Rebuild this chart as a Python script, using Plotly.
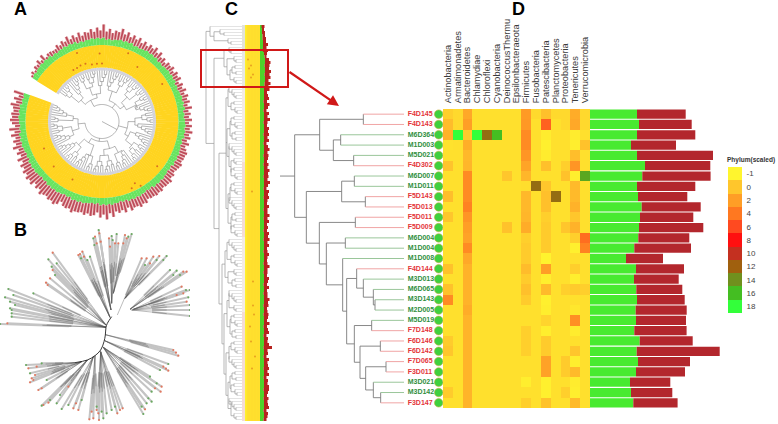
import plotly.graph_objects as go

W, H = 778, 424

# ---------- Panel D data ----------
PHYLA = ["Actinobacteria", "Armatimonadetes", "Bacteroidetes", "Chlamydiae", "Chloroflexi",
         "Cyanobacteria", "DeinococcusThermu", "Epsilonbacteraeota", "Firmicutes", "Fusobacteria",
         "Patescibacteria", "Planctomycetes", "Proteobacteria", "Tenericutes", "Verrucomicrobia"]
SAMPLES = ["F4D145", "F4D143", "M6D364", "M1D003", "M5D021", "F4D302", "M6D007", "M1D011", "F5D143",
           "F5D013", "F5D011", "F5D009", "M6D004", "M1D004", "M1D008", "F4D144", "M3D013", "M6D065",
           "M3D143", "M2D005", "M5D019", "F7D148", "F6D146", "F6D142", "F7D065", "F3D011", "M3D021",
           "M3D142", "F3D147"]
b = -0.55
HEAT = [
    [-.2, -.4, 1.5, b, b, b, b, b, 2.2, -.4, .3, -.4, -.4, 1.3, -.4],
    [.5, -.4, 2, b, b, b, b, b, 2.3, b, 5, b, -.4, 1.5, -.4],
    [1, 18, -.1, 18, 12.5, 16, b, b, 3, b, -.8, b, b, -.8, b],
    [-.6, b, 1.2, b, b, b, b, b, 3, b, -.9, b, b, -.85, .2],
    [b, b, .7, b, b, b, b, b, 2.5, b, -.8, b, b, .4, b],
    [.1, b, .8, b, b, b, b, b, 1.7, b, .3, b, -.2, 2.5, b],
    [b, b, 3, b, b, b, 0, b, .8, b, b, b, .2, -.85, 15],
    [b, b, 3, b, b, b, b, b, -.5, 12.5, 0, b, b, .6, b],
    [.4, b, 3, b, b, b, b, b, .7, b, .3, 12.5, b, .6, b],
    [b, b, 3.5, b, b, b, b, b, .7, b, .3, b, b, 1, b],
    [0, b, 2.5, b, b, b, b, b, .8, b, -.2, b, b, 0, b],
    [b, b, 2, b, b, b, .2, b, 1.3, b, -.1, b, 0, 1, b],
    [b, b, 1.8, b, b, b, b, b, -.2, b, -.1, b, b, -.2, 4.5],
    [b, b, 3, b, b, b, b, b, -.1, b, -.1, b, b, -.9, 3.5],
    [b, b, 1.5, b, b, b, b, b, -.1, b, -.95, b, b, b, b],
    [.2, b, 1, b, b, b, b, b, .5, b, 2, b, b, -.2, b],
    [b, b, 1, b, b, b, b, b, -.1, b, -.85, b, b, -.85, b],
    [.2, b, 1, b, b, b, b, b, .3, b, .6, b, -.2, -.1, -.2],
    [3, b, 1, b, b, b, b, b, -.1, b, -.9, b, b, b, b],
    [b, b, 1.3, b, b, b, b, b, b, b, -.85, b, b, -.7, b],
    [b, b, .9, b, b, b, b, b, b, b, -.3, b, b, 2.8, b],
    [b, b, .9, b, b, b, b, b, -.2, b, -.85, b, b, -.8, b],
    [-.1, b, .9, b, b, b, b, b, -.2, b, -.1, b, b, b, b],
    [0, b, .9, b, b, b, b, b, -.2, b, -.1, b, b, 0, b],
    [b, b, .9, b, b, b, b, b, b, b, 1.8, b, -.1, -.85, b],
    [b, b, .9, b, b, b, b, b, b, b, 1.8, b, -.1, .6, b],
    [b, b, .9, b, b, b, b, b, -.85, b, -.9, b, b, -.8, b],
    [-.1, b, .9, b, b, b, b, b, b, b, -.9, b, -.2, -.85, b],
    [b, b, .9, b, b, b, b, b, -.2, b, .2, b, b, .6, b],
]
D_GREEN = [47, 49, 47, 41, 47, 55, 52.3, 47, 48, 51.7, 50, 49, 48.3, 44.3, 36, 46, 44, 46.3, 47, 45.7,
           46, 44.3, 49.7, 46.7, 48, 46, 40, 41, 43.3]
D_RED = [48.7, 52.7, 58.3, 45, 76, 65.3, 68.3, 58.3, 49.3, 59, 53.3, 64.3, 51, 56.7, 37, 48, 44.7, 46,
         47.7, 51, 50, 52.3, 53, 83, 52, 49, 40.3, 41.3, 44.3]
LEGEND_LEVELS = [-1, 0, 2, 4, 6, 8, 10, 12, 14, 16, 18]
LEGEND_COLORS = ["#FFF52E", "#FFC62C", "#FF9E26", "#FF7820", "#FF4A20", "#FF1010", "#C43020",
                 "#A0600E", "#70901E", "#44BE22", "#33FF3A"]
TREE_D = [44,
          [119, [250, 0, 0], [160, [182, 0, 0], [221, 0, 0]]],
          [79, [185, [223, 0, 0], [256, 0, 0]],
           [118, [226, 0, 0],
            [139, [196, 0, 0],
             [188, 0,
              [200, [230, 0, [250, 0, [280, 0, [285, 0, 0]]]],
               [223, [275, 0, 0],
                [240, [301, 0, 0],
                 [257, [318, 0, 0], [280, 0, [302, 0, 0]]]]]]]]]]]

# ---------- Panel A data ----------
A_RED = [2, 3, 2, 4, 3, 5, 3, 6, 2, 3, 5, 3, 4, 6,
         4, 6, 5, 8, 5, 7, 6, 9, 6, 8, 7, 9, 7, 10, 8,
         13, 8, 10, 7, 9, 8, 11, 7, 9, 6, 8, 7, 9, 6, 8, 5, 7, 6, 8, 5, 7, 5, 6,
         4, 6, 5, 6, 4, 6, 5, 6, 4, 6, 5, 7, 4, 6, 5, 6, 4, 7, 5, 6, 5, 7, 4, 6, 5, 7, 5, 6, 5, 7, 5,
         6, 8, 6, 7, 5, 8, 6, 7, 5, 8, 6, 9, 7, 8, 6, 9, 7, 10, 8, 9, 7, 10, 8, 11, 8, 9, 10, 8, 11, 9, 10, 8, 12, 9, 14,
         10, 12, 9, 11, 13, 10, 12, 9, 11, 10, 13, 9, 12, 10, 8, 11, 13, 10, 12, 9, 11, 12, 10, 11, 9, 12, 10, 11, 9, 10,
         8, 9, 7, 10, 6, 8, 5, 9, 6, 7, 5, 8, 6, 10, 5, 7, 9, 6, 8, 5, 7, 9, 6, 8, 5, 10, 7, 8, 5, 4][:174]
A_GREEN_END = [82, 83, 82, 83, 83, 84, 83, 84, 83, 84]
A_SPOT_R = [59, 59, 60, 60, 58, 58, 58, 71, 75, 66, 64, 65, 71, 68, 73, 73, 65, 70, 73]
A_SPOT_T = [119, 115, 111, 106, 100, 95, 90, -39, -59, -137, -155, -117, 32, 92, 110, 69, 57, -62, -66]
a_p = [44, 0, [47, 0, 0]]
a_q = [40, [44, 0, 0], [45, 0, [48, 0, 0]]]
a_s = [36, 0, [40, 0, [44, 0, [47, 0, 0]]]]
TREE_A = [17,
          [24, [30, a_q, a_s], [28, [36, a_p, a_q], a_s]],
          [22, [32, a_s, a_q], [27, [35, a_q, a_p], [38, a_p, a_s]]],
          [26, [33, a_q, a_s], [30, a_s, [38, a_p, a_q]]],
          [20, [28, [35, a_s, a_p], [34, a_q, a_q]], [25, [36, a_p, a_s], [33, a_q, a_s]]],
          [24, [31, a_s, a_q], [29, a_p, a_s]]]

# ---------- Panel B data (read in 3x zoom units) ----------
B_CORE_X = [335, 322, 318, 316, 312, 302, 285, 262, 225]
B_CORE_Y = [320, 340, 352, 375, 395, 420, 437, 450, 458]
B_BUNDLES = [
    (330, 322, [(235, 135, "F"), (240, 132, "F"), (247, 125, "F"), (243, 145, "M"), (252, 140, "F"), (262, 150, "M"), (270, 140, "M")]),
    (333, 300, [(280, 85, "M"), (285, 80, "F"), (296, 60, "M"), (298, 70, "F"), (290, 100, "F"), (283, 105, "M"), (302, 95, "F")]),
    (335, 280, [(327, 85, "F"), (335, 78, "M"), (350, 72, "M"), (345, 100, "F"), (338, 90, "M"), (330, 110, "F")]),
    (340, 250, [(355, 100, "F"), (375, 75, "F"), (395, 72, "M"), (380, 85, "F"), (370, 100, "F"), (385, 80, "M")]),
    (352, 315, [(425, 145, "F")]),
    (375, 265, [(440, 145, "F"), (460, 140, "F"), (478, 138, "F"), (500, 138, "M"), (490, 150, "M"), (450, 160, "F"), (470, 150, "M"), (435, 165, "M")]),
    (390, 298, [(510, 180, "M"), (530, 182, "M"), (550, 185, "F"), (560, 185, "F"), (540, 195, "M"), (520, 195, "M")]),
    (400, 298, [(545, 230, "F"), (558, 240, "M"), (570, 240, "M"), (550, 250, "F"), (530, 255, "F"), (565, 262, "M")]),
    (395, 300, [(570, 285, "M"), (570, 300, "M"), (570, 318, "M"), (560, 275, "F")]),
    (316, 374, [(535, 437, "F"), (520, 420, "F"), (528, 428, "F")]),
    (314, 392, [(505, 462, "M"), (505, 482, "F"), (490, 470, "F"), (480, 480, "M"), (498, 476, "F")]),
    (310, 412, [(485, 530, "F"), (482, 545, "F"), (470, 520, "M"), (450, 500, "M"), (455, 545, "M"), (465, 535, "F")]),
    (310, 412, [(430, 612, "M"), (455, 575, "M"), (440, 580, "M"), (445, 565, "M"), (425, 590, "M"), (435, 598, "F")]),
    (302, 425, [(360, 600, "F"), (368, 595, "F"), (352, 610, "F"), (335, 600, "M"), (345, 590, "M")]),
    (302, 425, [(297, 630, "F"), (310, 625, "M"), (320, 610, "M"), (295, 610, "F"), (290, 600, "F"), (305, 605, "M")]),
    (285, 437, [(268, 628, "F"), (280, 625, "F"), (290, 590, "M"), (275, 605, "F")]),
    (280, 440, [(220, 595, "F"), (235, 600, "F"), (185, 597, "M"), (245, 570, "M"), (205, 585, "M"), (228, 580, "F")]),
    (262, 450, [(125, 587, "M"), (150, 570, "M"), (170, 580, "M"), (130, 585, "F"), (205, 530, "F"), (145, 578, "F"), (180, 555, "M")]),
    (245, 455, [(90, 517, "F"), (100, 510, "F"), (115, 540, "F"), (125, 535, "F"), (105, 495, "F"), (95, 505, "F"), (140, 510, "M")]),
    (225, 458, [(78, 465, "M"), (85, 475, "F"), (90, 490, "M"), (110, 470, "F"), (125, 460, "M")]),
    (318, 352, [(100, 250, "M")]),
    (318, 352, [(25, 237, "M"), (15, 262, "M"), (30, 275, "M"), (30, 295, "M"), (35, 310, "M"), (35, 320, "M"), (45, 285, "M"), (40, 255, "M"), (35, 300, "M")]),
    (318, 352, [(22, 340, "F"), (0, 342, "M")]),
    (318, 345, [(158, 128, "F"), (145, 148, "M"), (158, 180, "F"), (150, 205, "F"), (138, 218, "F"), (143, 225, "F"), (170, 160, "M"), (165, 195, "M"), (155, 170, "M")]),
]

# ---------- Panel C data ----------
c_p = [34, 0, [36, 0, 0]]
c_q = [31, [34, 0, 0], [35, 0, [37, 0, 0]]]
c_r = [29, 0, [32, 0, [34, 0, [36, 0, 0]]]]
c_s = [32, [35, 0, 0], [36, 0, 0]]
TREE_C = [6,
          [10, 0, [14, [20, 0, [24, 0, 0]], [28, 0, [31, 0, 0]]]],
          [14,
           [24, [29, 0, [31, 0, 0]], [27, c_p, [30, c_s, c_p]]],
           [19,
            [26, [28, c_r, c_q], [27, [30, c_q, c_s], [29, c_r, [31, c_p, c_q]]], [28, [30, c_q, c_r], [31, c_s, c_q]]],
            [22, [25, [27, c_r, c_q], [28, c_p, c_s]],
             [24, [27, [29, c_r, c_p], [30, c_q, c_s]],
              [26, [29, c_q, c_r], [28, [30, c_s, c_q], [31, c_r, c_p]]]]]]]]
C_COLUMNS = [-.9, -.7, -.55, -.5, -.5, -.55, -.5, -.5, -.55, -.5, -.5, -.55, -.5, -.5, -.55]
C_GREEN = [1.5, 2, 2, 2.5, 2.5, 3, 3, 3, 3, 4, 4.5, 5, 5, 4.5, 5, 5, 4.5, 5, 5, 4.5, 4.5, 4,
           4, 4, 4, 3.5, 4, 4, 3.5, 4, 4, 4, 3.5, 4, 4, 4, 3.5, 4, 4, 3.5, 4, 4, 4, 3.5, 4, 4, 3.5, 4,
           4, 4, 3.5, 4, 4, 4, 3.5, 4, 4, 3.5, 4, 4, 4, 3.5, 4, 4, 3.5, 4, 4, 4, 3.5, 4, 4, 3.5, 4, 4,
           4, 3.5, 4, 4, 4, 3.5, 4, 4, 3.5, 4, 4, 4, 3.5, 4, 4, 3.5, 4, 4, 4, 3.5, 4, 4, 3.5, 4, 4, 4,
           3.5, 4, 4, 3.5, 4, 4, 4, 3.5, 4, 4, 3.5, 4, 4, 4, 3.5, 4, 4, 3.5, 4, 4, 4, 3.5, 4, 4, 3.5,
           4, 4, 4, 3.5, 4, 4, 3.5]
C_RED = [3, 1.5, 3, 2.5, 3.5, 3, 5, 3.5, 5, 3, 2,
         4, 5.5, 5, 4, 6, 5, 5.5, 3.5, 6, 4, 5.5,
         3, 4, 5, 3.5, 5.5, 4, 3, 5, 3.5, 6, 4, 3, 5, 4, 5.5, 3.5, 5, 3, 4, 5.5, 3.5, 5, 4, 3, 5, 3.5,
         5.5, 4, 5, 3.5, 6, 4, 3, 5, 4, 5.5, 3.5, 3, 5, 4, 3.5, 5.5, 4, 5, 3, 4, 3.5, 5, 4, 6, 3.5, 5,
         3, 4, 5, 3.5, 3, 4, 5.5, 3.5, 4, 3, 5, 4, 3.5, 5, 3, 4, 3.5, 5.5, 4, 5, 3, 3.5, 5, 4, 3, 5.5,
         3.5, 4, 5, 3, 4, 3.5, 5, 8.5, 3.5, 4, 3, 5, 3.5, 4, 5.5, 3.5, 5, 3, 4, 3.5, 5, 5.5, 4, 3, 5, 3.5,
         4, 5, 3, 4, 3.5, 3]
C_BAND_EDGES = [-.5, 8, 21, 45, 70, 95, 132]
C_BAND_VALUES = [[0], [1], [2], [3], [2], [3]]
C_SPOT_ROW = [11, 13, 14, 16, 17, 55, 85, 93, 96, 100, 105, 110, 114]
C_SPOT_COL = [3, 6, 4, 8, 6, 7, 8, 8, 9, 5, 6, 10, 7]

PINK, LEAFGREEN = "#ee9b9b", "#8fbf8f"


def dx(a, c):
    return [a / W, c / W]


def dy(a, c):
    return [1 - c / H, 1 - a / H]


def walk(node, parent, leaf_depth, st):
    if node == 0:
        y = st["n"]
        st["n"] += 1
        st["leaf"].append((parent, leaf_depth, y))
        return y
    ys = [walk(c, node[0], leaf_depth, st) for c in node[1:]]
    y = (ys[0] + ys[-1]) / 2
    st["v"].append((node[0], ys[0], ys[-1]))
    st["h"].append((parent, node[0], y))
    return y


def tree(node, parent, leaf_depth):
    st = {"n": 0, "leaf": [], "v": [], "h": []}
    walk(node, parent, leaf_depth, st)
    return st


fig = go.Figure()
layout = dict(width=W, height=H, margin=dict(l=0, r=0, t=0, b=0), autosize=False,
              paper_bgcolor="white", plot_bgcolor="white", showlegend=False, barmode="overlay",
              font=dict(family="Liberation Sans", color="#333"))


def axes(n, xd, yd, xr, yr):
    s = str(n) if n > 1 else ""
    layout[f"xaxis{s}"] = dict(domain=dx(*xd), range=xr, visible=False, anchor=f"y{s}", fixedrange=True)
    layout[f"yaxis{s}"] = dict(domain=dy(*yd), range=yr, visible=False, anchor=f"x{s}", fixedrange=True)


def seg(xs, ys, pairs):
    for (x0, y0, x1, y1) in pairs:
        xs += [x0, x1, None]
        ys += [y0, y1, None]


# ----- D tree (axes 1)
axes(1, (273, 443), (109, 408), [-21, 489], [28.5, -0.5])
t = tree(TREE_D, -21, 372)
xs, ys = [], []
seg(xs, ys, [(d, a, d, c) for d, a, c in t["v"]] + [(p, y, d, y) for p, d, y in t["h"]])
fig.add_trace(go.Scatter(x=xs, y=ys, mode="lines", line=dict(color="#7c7c7c", width=0.9), xaxis="x", yaxis="y"))
for key, col in (("F", PINK), ("M", LEAFGREEN)):
    xs, ys = [], []
    seg(xs, ys, [(p, y, d, y) for p, d, y in t["leaf"] if SAMPLES[y][0] == key])
    fig.add_trace(go.Scatter(x=xs, y=ys, mode="lines", line=dict(color=col, width=0.9), xaxis="x", yaxis="y"))
for key, col in (("F", "#e4343a"), ("M", "#2f8f3e")):
    idx = [i for i, s in enumerate(SAMPLES) if s[0] == key]
    fig.add_trace(go.Scatter(x=[383] * len(idx), y=idx, text=[SAMPLES[i] for i in idx], mode="text",
                             textposition="middle right", cliponaxis=False,
                             textfont=dict(family="Liberation Sans", size=7, color=col, weight="bold"),
                             xaxis="x", yaxis="y"))
fig.add_trace(go.Scatter(x=[476] * 29, y=list(range(29)), mode="markers", cliponaxis=False,
                         marker=dict(size=8.5, color="#3fd03f", line=dict(color="#c8b040", width=0.6)),
                         xaxis="x", yaxis="y"))

# ----- D heatmap (axes 2)
scale = [[(v + 1) / 19, c] for v, c in zip(LEGEND_LEVELS, LEGEND_COLORS)]
axes(2, (443, 590), (109, 408), [-0.5, 14.5], [28.5, -0.5])
layout["xaxis2"].update(visible=True, side="top", tickmode="array", tickvals=list(range(15)), ticktext=PHYLA,
                        tickangle=-90, ticks="outside", ticklen=3, tickcolor="white", showgrid=False,
                        zeroline=False, showline=False,
                        tickfont=dict(size=9.2, color="#3c3c3c", family="Liberation Sans"))
fig.add_trace(go.Heatmap(z=HEAT, zmin=-1, zmax=18, colorscale=scale, showscale=False, xaxis="x2", yaxis="y2"))

# ----- D bars (axes 3)
axes(3, (590, 778), (109, 408), [0, 188], [28.5, -0.5])
ys29 = list(range(29))
fig.add_trace(go.Bar(x=D_GREEN, y=ys29, orientation="h", width=0.9, marker=dict(color="#48ea30", line=dict(width=0)), xaxis="x3", yaxis="y3"))
fig.add_trace(go.Bar(x=D_RED, y=ys29, base=D_GREEN, orientation="h", width=0.9, marker=dict(color="#b3272d", line=dict(width=0)), xaxis="x3", yaxis="y3"))

# ----- Legend (axes 4)
axes(4, (728, 742), (167, 313), [-0.5, 0.5], [10.5, -0.5])
layout["yaxis4"].update(visible=True, side="right", tickmode="array", tickvals=list(range(11)),
                        ticktext=[str(v) for v in LEGEND_LEVELS], showgrid=False, zeroline=False, showline=False,
                        ticks="outside", ticklen=2, tickcolor="white",
                        tickfont=dict(size=8, color="#444", family="Liberation Sans"))
fig.add_trace(go.Heatmap(z=[[v] for v in LEGEND_LEVELS], zmin=-1, zmax=18, colorscale=scale, showscale=False, xaxis="x4", yaxis="y4"))

# ----- C tree (axes 5)
tc = tree(TREE_C, 0, 42)
axes(5, (200, 245), (25, 421), [0, 45], [tc["n"] - 0.5, -0.5])
xs, ys = [], []
seg(xs, ys, [(d, a, d, c) for d, a, c in tc["v"]] + [(p, y, d, y) for p, d, y in tc["h"]])
xl, yl = [], []
seg(xl, yl, [(p, y, d, y) for p, d, y in tc["leaf"]])
fig.add_trace(go.Scatter(x=xl, y=yl, mode="lines", line=dict(color="#dcdcdc", width=0.8), xaxis="x5", yaxis="y5"))
fig.add_trace(go.Scatter(x=xs, y=ys, mode="lines", line=dict(color="#9a9a9a", width=0.7), xaxis="x5", yaxis="y5"))

# ----- C strip (axes 6)
axes(6, (242, 280), (25, 421), [-3, 35], [131.5, -0.5])
rows = list(range(len(C_RED)))
fig.add_trace(go.Heatmap(z=C_BAND_VALUES, x=[-3, 0], y=C_BAND_EDGES, zmin=0, zmax=3, showscale=False,
                         colorscale=[[0, "#e2e2da"], [0.33, "#e8e8e4"], [0.66, "#f4ebe6"], [1, "#f4dcd6"]],
                         xaxis="x6", yaxis="y6"))
fig.add_trace(go.Heatmap(z=[C_COLUMNS], x=[i + .5 for i in range(15)], y=[-.5, 131.5], zmin=-1, zmax=18,
                         colorscale=scale, showscale=False, xaxis="x6", yaxis="y6"))
fig.add_trace(go.Bar(x=C_GREEN, y=rows, base=15, orientation="h", width=1, marker=dict(color="#4ed22a", line=dict(width=0)), xaxis="x6", yaxis="y6"))
fig.add_trace(go.Bar(x=C_RED, y=rows, base=[15 + g for g in C_GREEN], orientation="h", width=1, marker=dict(color="#b7231f", line=dict(width=0)), xaxis="x6", yaxis="y6"))
fig.add_trace(go.Scatter(x=C_SPOT_COL, y=C_SPOT_ROW, mode="markers", marker=dict(size=2, color="#e8a020"), xaxis="x6", yaxis="y6"))

# ----- B (axes 7)
axes(7, (0, 190), (210, 424), [0, 570], [642, 0])
dark_x, dark_y, gray_x, gray_y = [], [], [], []
tip = {"F": ([], []), "M": ([], [])}
for hx, hy, tips in B_BUNDLES:
    for x, y, k in tips:
        mx, my = hx + 0.35 * (x - hx), hy + 0.35 * (y - hy)
        dark_x += [hx, hx + 0.6 * (x - hx), None]
        dark_y += [hy, hy + 0.6 * (y - hy), None]
        gray_x += [mx, x, None]
        gray_y += [my, y, None]
        tip[k][0].append(x)
        tip[k][1].append(y)
fig.add_trace(go.Scatter(x=gray_x, y=gray_y, mode="lines", line=dict(color="#c4c4c4", width=2), xaxis="x7", yaxis="y7"))
fig.add_trace(go.Scatter(x=dark_x, y=dark_y, mode="lines", line=dict(color="#555", width=0.4), xaxis="x7", yaxis="y7"))
fig.add_trace(go.Scatter(x=B_CORE_X, y=B_CORE_Y, mode="lines", line=dict(color="#222", width=0.9, shape="spline"), xaxis="x7", yaxis="y7"))
fig.add_trace(go.Scatter(x=tip["F"][0], y=tip["F"][1], mode="markers", marker=dict(size=2.2, color="#e07860"), xaxis="x7", yaxis="y7"))
fig.add_trace(go.Scatter(x=tip["M"][0], y=tip["M"][1], mode="markers", marker=dict(size=2.2, color="#6aa860"), xaxis="x7", yaxis="y7"))

# ----- A (polar)
theta = [147 - 2 * i for i in range(len(A_RED))]
green_end = [A_GREEN_END[i % len(A_GREEN_END)] for i in range(len(A_RED))]
polar_kw = dict(subplot="polar")
fig.add_trace(go.Barpolar(r=[3] * len(theta), base=51, theta=theta, width=2.3, marker=dict(color="#d2d2da", line=dict(width=0)), **polar_kw))
fig.add_trace(go.Barpolar(r=[22.5] * len(theta), base=54, theta=theta, width=2.4, marker=dict(color="#ffd420", line=dict(width=0)), **polar_kw))
fig.add_trace(go.Barpolar(r=[g - 76.5 for g in green_end], base=76.5, theta=theta, width=2.1, marker=dict(color="#68e460", line=dict(width=0)), **polar_kw))
fig.add_trace(go.Barpolar(r=A_RED, base=green_end, theta=theta, width=2, marker=dict(color="#e8b4b6", line=dict(width=0)), **polar_kw))
fig.add_trace(go.Barpolar(r=A_RED, base=green_end, theta=theta, width=1.1, marker=dict(color="#bd4a58", line=dict(width=0)), **polar_kw))

ta = tree(TREE_A, 0, 51)
n = ta["n"]
start, step = 145.0, 344.0 / (n - 1)


def ang(y):
    return start - y * step


pr, pt = [], []
for d, a, c in ta["v"]:
    k = max(2, int(abs(c - a) * step / 3) + 1)
    for j in range(k + 1):
        pr.append(d)
        pt.append(ang(a + (c - a) * j / k))
    pr.append(None)
    pt.append(None)
for p, d, y in ta["h"] + ta["leaf"]:
    pr += [p, d, None]
    pt += [ang(y), ang(y), None]
fig.add_trace(go.Scatterpolar(r=pr, theta=pt, mode="lines", line=dict(color="#777", width=0.55), **polar_kw))
fig.add_trace(go.Scatterpolar(r=A_SPOT_R, theta=A_SPOT_T, mode="markers", marker=dict(size=2, color="#d87020"), **polar_kw))

layout["polar"] = dict(domain=dict(x=dx(2, 202), y=dy(21.5, 221.5)), barmode="overlay", bgcolor="rgba(0,0,0,0)",
                       radialaxis=dict(range=[0, 100], visible=False),
                       angularaxis=dict(visible=False, direction="counterclockwise", rotation=0))

# ----- Overlays: panel letters, highlight box, arrow, legend title


def px(x, y):
    return dict(x=x / W, y=1 - y / H, xref="paper", yref="paper")


notes = []
for letter, x, y in (("A", 20, 9), ("B", 20, 230), ("C", 231, 9), ("D", 518, 9)):
    notes.append(dict(text=f"<b>{letter}</b>", showarrow=False, xanchor="center", yanchor="middle",
                      font=dict(size=18, color="black", family="Liberation Sans"), **px(x, y)))
notes.append(dict(text="<b>Phylum(scaled)</b>", showarrow=False, xanchor="right", yanchor="middle",
                  font=dict(size=6.5, color="#333", family="Liberation Sans"), **px(777, 160)))
notes.append(dict(text="", showarrow=True, arrowhead=2, arrowsize=1, arrowwidth=2.2, arrowcolor="#d01818",
                  ax=-51, ay=-35, **px(339, 106)))
layout["annotations"] = notes
layout["shapes"] = [dict(type="rect", xref="paper", yref="paper", x0=201 / W, x1=288 / W, y0=1 - 87 / H, y1=1 - 50 / H,
                         line=dict(color="#d01818", width=2), fillcolor="rgba(0,0,0,0)")]
fig.update_layout(**layout)
fig.write_html("out.html", config=dict(displayModeBar=False),
               post_script="document.body.style.margin='0';document.body.style.overflow='hidden';")
